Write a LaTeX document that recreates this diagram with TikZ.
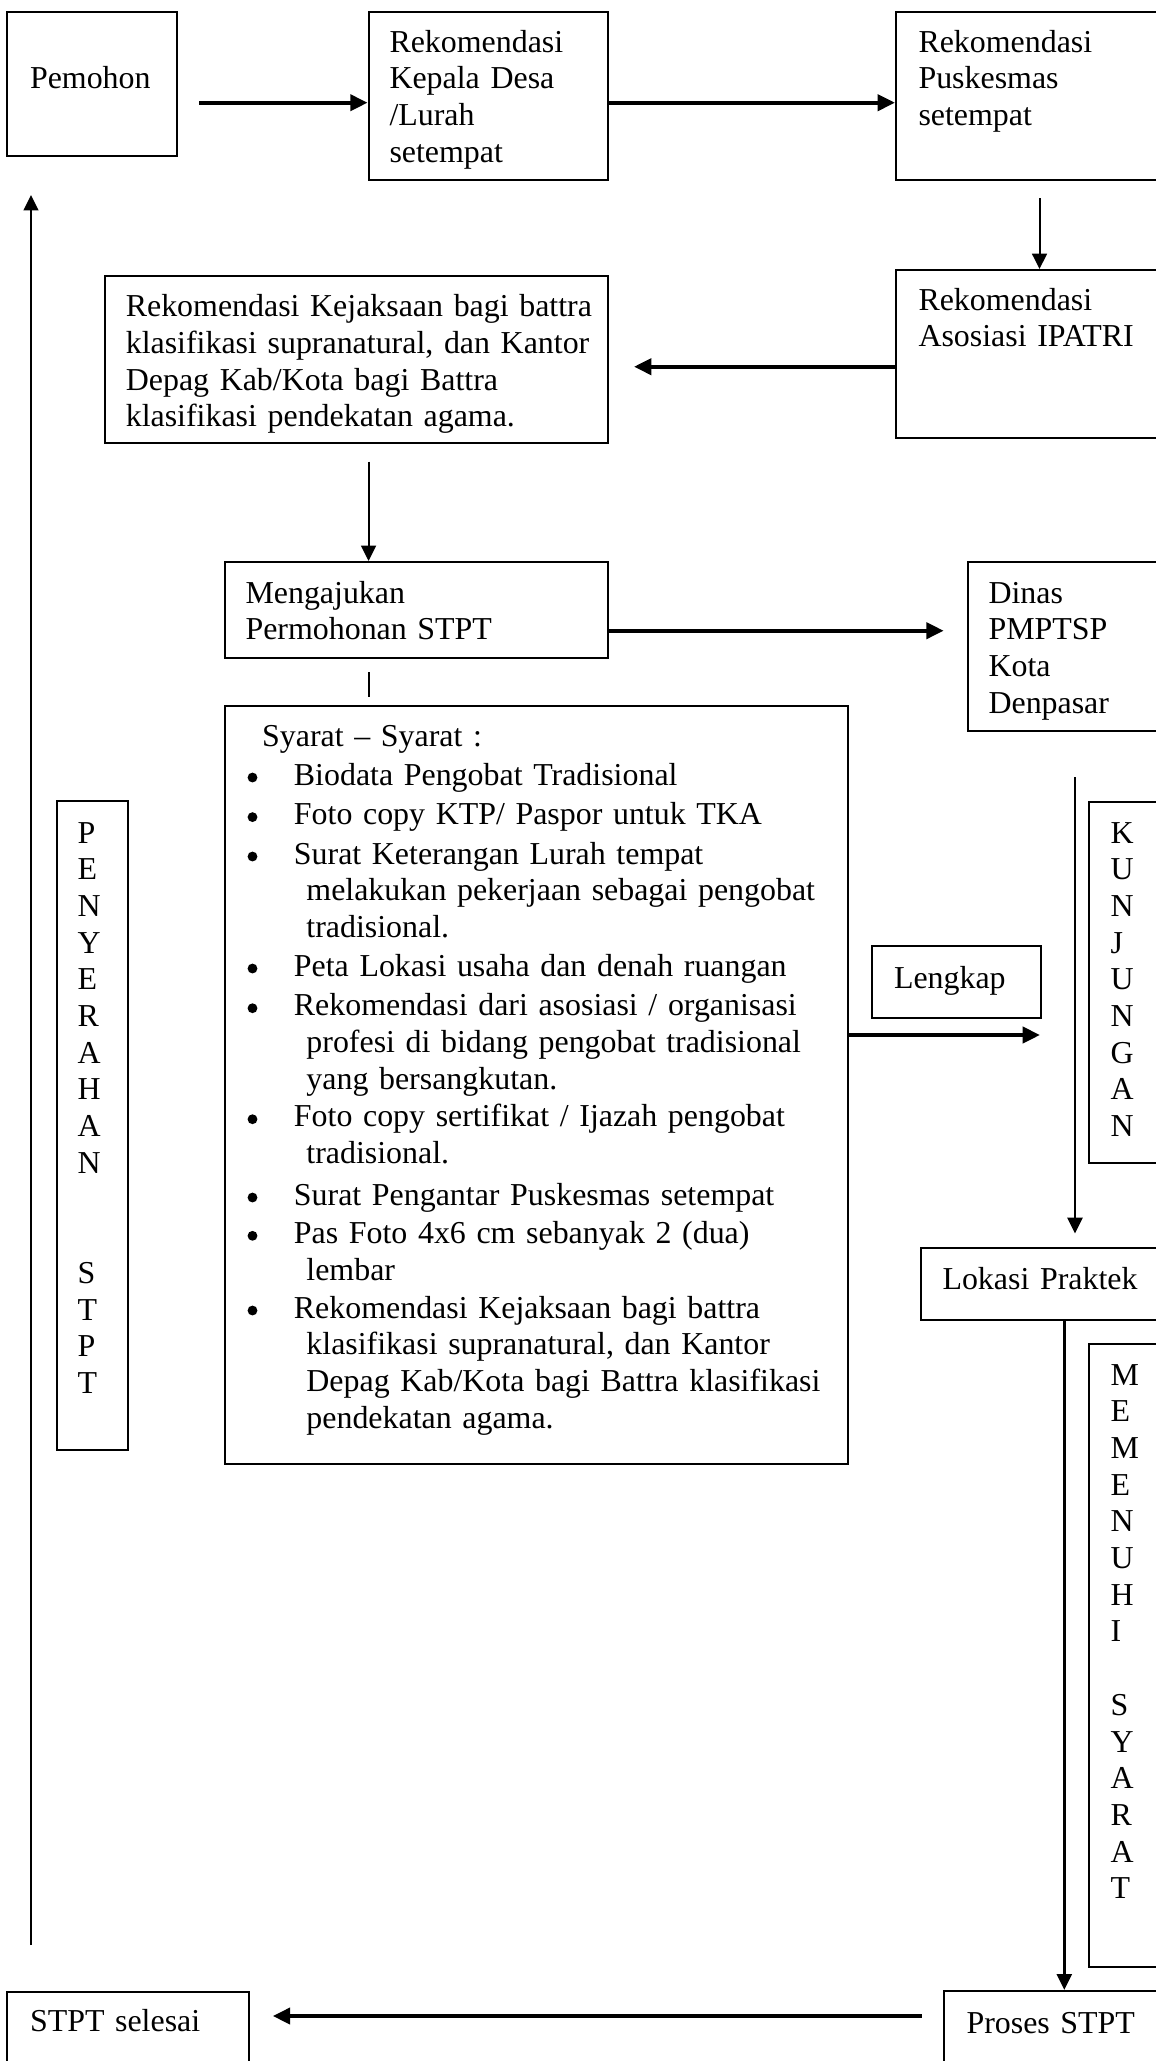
\documentclass[tikz,border=0pt]{standalone}
\usepackage{fontspec}
\setmainfont{Liberation Serif}
\usetikzlibrary{arrows.meta,fit}
\tikzset{
  box/.style={draw, line width=0.75pt, inner sep=0pt, rectangle},
  txt/.style={anchor=base west, inner sep=0pt, align=left, text width=200pt,
              font=\fontsize{12pt}{13.8pt}\selectfont},
  vtxt/.style={anchor=base west, inner sep=0pt, align=left, text width=12pt,
              font=\fontsize{12pt}{13.8pt}\selectfont},
  blt/.style={circle, fill, inner sep=0pt, minimum size=3.7pt},
  thk/.style={line width=1.5pt, -{Triangle[length=6.5pt,width=6pt]}},
  thn/.style={line width=0.75pt, -{Triangle[length=5.8pt,width=5.6pt]}},
  med/.style={line width=1.1pt, -{Triangle[length=6pt,width=5.6pt]}},
  plain/.style={line width=0.75pt},
}
\begin{document}
\begin{tikzpicture}[x=0.376pt, y=-0.376pt]
\clip (0,0) rectangle (1156,2061);

% boxes
\node[box, fit={(7.4,11.7) (177,156)}] (pem) {};
\node[box, fit={(368.6,11.7) (608,180)}] (kep) {};
\node[box, fit={(896,11.7) (1175,180)}] (pus) {};
\node[box, fit={(896,270) (1175,438)}] (ipa) {};
\node[box, fit={(104.7,275.7) (608,443.3)}] (kej) {};
\node[box, fit={(225,562) (608,658)}] (men) {};
\node[box, fit={(968,562) (1175,730.7)}] (din) {};
\node[box, fit={(225,705.7) (848,1464)}] (syr) {};
\node[box, fit={(56.8,801) (128.3,1450)}] (pen) {};
\node[box, fit={(1088.5,801.5) (1175,1162.5)}] (kun) {};
\node[box, fit={(872,945.7) (1040.5,1017.7)}] (len) {};
\node[box, fit={(920.5,1247.5) (1175,1319.5)}] (lok) {};
\node[box, fit={(1088.5,1343.5) (1175,1967)}] (mem) {};
\node[box, fit={(7.4,1991.5) (249,2080)}] (sel) {};
\node[box, fit={(944,1991) (1175,2080)}] (pro) {};

% texts
\node[txt] (pem-t) at (29.5,88) {Pemohon};
\node[txt, text width=80pt] (kep-t) at (389,52) {Rekomendasi\\Kepala Desa\\/Lurah\\setempat};
\node[txt, text width=85pt] (pus-t) at (918,52) {Rekomendasi\\Puskesmas\\setempat};
\node[txt, text width=85pt] (ipa-t) at (918,310) {Rekomendasi\\Asosiasi IPATRI};
\node[txt, text width=180pt] (kej-t) at (125.3,316.7) {Rekomendasi Kejaksaan bagi battra\\klasifikasi supranatural, dan Kantor\\Depag Kab/Kota bagi Battra\\klasifikasi pendekatan agama.};
\node[txt, text width=130pt] (men-t) at (245,603) {Mengajukan\\Permohonan STPT};
\node[txt, text width=60pt] (din-t) at (988,603) {Dinas\\PMPTSP\\Kota\\Denpasar};
\node[txt, text width=120pt] (syr-t) at (261.7,746) {Syarat -- Syarat :};
\node[txt, text width=50pt] (len-t) at (893.5,988.5) {Lengkap};
\node[txt, text width=80pt] (lok-t) at (942,1289) {Lokasi Praktek};
\node[txt, text width=80pt] (sel-t) at (29.5,2031.7) {STPT selesai};
\node[txt, text width=75pt] (pro-t) at (966,2033) {Proses STPT};

% bullet list
\node[blt] (b1) at (252.5,777.5) {};
\node[txt] (i1) at (293.4,785) {Biodata Pengobat Tradisional};
\node[blt] (b2) at (252.5,817.1) {};
\node[txt] (i2) at (293.4,824.6) {Foto copy KTP/ Paspor untuk TKA};
\node[blt] (b3) at (252.5,856.5) {};
\node[txt] (i3) at (293.4,864) {Surat Keterangan Lurah tempat\\\hspace*{4.7pt}melakukan pekerjaan sebagai pengobat\\\hspace*{4.7pt}tradisional.};
\node[blt] (b4) at (252.5,968.5) {};
\node[txt] (i4) at (293.4,976) {Peta Lokasi usaha dan denah ruangan};
\node[blt] (b5) at (252.5,1008.2) {};
\node[txt] (i5) at (293.4,1015.7) {Rekomendasi dari asosiasi / organisasi\\\hspace*{4.7pt}profesi di bidang pengobat tradisional\\\hspace*{4.7pt}yang bersangkutan.};
\node[blt] (b6) at (252.5,1119.2) {};
\node[txt] (i6) at (293.4,1126.7) {Foto copy sertifikat / Ijazah pengobat\\\hspace*{4.7pt}tradisional.};
\node[blt] (b7) at (252.5,1197.5) {};
\node[txt] (i7) at (293.4,1205) {Surat Pengantar Puskesmas setempat};
\node[blt] (b8) at (252.5,1235.8) {};
\node[txt] (i8) at (293.4,1243.3) {Pas Foto 4x6 cm sebanyak 2 (dua)\\\hspace*{4.7pt}lembar};
\node[blt] (b9) at (252.5,1310.5) {};
\node[txt] (i9) at (293.4,1318) {Rekomendasi Kejaksaan bagi battra\\\hspace*{4.7pt}klasifikasi supranatural, dan Kantor\\\hspace*{4.7pt}Depag Kab/Kota bagi Battra klasifikasi\\\hspace*{4.7pt}pendekatan agama.};

% vertical texts
\node[vtxt] (pen-t) at (77,843) {P\\E\\N\\Y\\E\\R\\A\\H\\A\\N\\\mbox{}\\\mbox{}\\S\\T\\P\\T};
\node[vtxt] (kun-t) at (1110,843) {K\\U\\N\\J\\U\\N\\G\\A\\N};
\node[vtxt] (mem-t) at (1110,1385) {M\\E\\M\\E\\N\\U\\H\\I\\\mbox{}\\S\\Y\\A\\R\\A\\T};

% connectors
\coordinate (a1s) at (199,102.7);
\draw[thk] (a1s) -- (a1s -| kep.west);
\coordinate (a2) at (608,102.7);
\draw[thk] (a2 -| kep.east) -- (a2 -| pus.west);
\coordinate (d1s) at (1039.5,198);
\draw[thn] (d1s) -- (d1s |- ipa.north);
\coordinate (l1e) at (634,366.7);
\draw[thk] (l1e -| ipa.west) -- (l1e);
\coordinate (k1s) at (368.6,461.7);
\draw[thn] (k1s) -- (k1s |- men.north);
\coordinate (m1e) at (943.7,630.7);
\draw[thk] (m1e -| men.east) -- (m1e);
\coordinate (s1a) at (368.6,672);
\coordinate (s1b) at (368.6,696.8);
\draw[plain] (s1a) -- (s1b);
\coordinate (r1e) at (1040,1035);
\draw[thk] (r1e -| syr.east) -- (r1e);
\coordinate (dl1) at (1075,777);
\coordinate (dl2) at (1075,1233.5);
\draw[med] (dl1) -- (dl2);
\coordinate (ll) at (1064.3,1300);
\draw[med] (ll |- lok.south) -- (ll |- pro.north);
\coordinate (p1s) at (921.6,2016);
\coordinate (p1e) at (272.8,2016);
\draw[thk] (p1s) -- (p1e);
\coordinate (u1s) at (31,1945);
\coordinate (u1e) at (31,195);
\draw[thn] (u1s) -- (u1e);
\end{tikzpicture}
\end{document}
